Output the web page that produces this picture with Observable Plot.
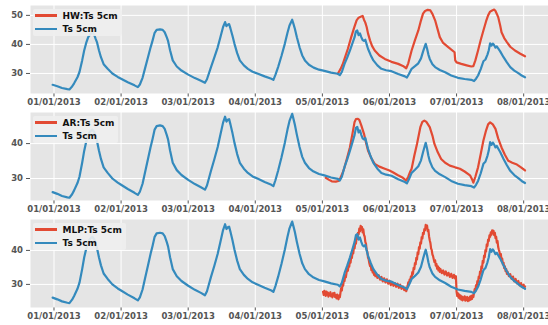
<!DOCTYPE html>
<html><head><meta charset="utf-8">
<script src="https://cdn.jsdelivr.net/npm/d3@7"></script>
<script src="https://cdn.jsdelivr.net/npm/@observablehq/plot@0.6"></script>
<style>
body{margin:0;background:#fff;font-family:"DejaVu Sans",sans-serif;}
#chart{position:relative;width:548px;height:325px;overflow:hidden;}
.panel{position:relative;}
.panel svg{display:block;}
.legend{position:absolute;left:33px;background:rgba(238,238,238,0.9);border-radius:2px;padding:0 4px 0 1.5px;}
.row{display:flex;align-items:center;height:13.4px;}
.sw{width:22px;height:2.5px;margin-right:6px;}
.lt{font:bold 9px "DejaVu Sans",sans-serif;color:#111;white-space:nowrap;}
</style></head>
<body><div id="chart"></div>
<script>
// ---- data (x = days since 01/01/2013, y = °C) ----
const seriesLabels = ["HW:Ts 5cm", "AR:Ts 5cm", "MLP:Ts 5cm"];
const baseLabel = "Ts 5cm";
const xTickDays = [0, 1, 2, 3, 4, 5, 6, 7];
const yTicksTop = [30, 40, 50];
const yTicksOther = [30, 40];
const yDomains = [[23.1, 53.4], [23.7, 48.9], [23.2, 49.1]];

const ts5cm = [[-0.02,26.1],[0.05,25.6],[0.12,25.0],[0.2,24.6],[0.23,24.5],[0.27,25.5],[0.3,26.6],[0.35,28.7],[0.38,30.5],[0.42,34.5],[0.45,37.9],[0.48,40.5],[0.51,42.5],[0.54,43.5],[0.57,44.0],[0.6,43.3],[0.62,42],[0.64,40.8],[0.67,38],[0.7,35.6],[0.74,33.2],[0.8,31.6],[0.87,30],[0.95,28.8],[1.0,28.2],[1.1,27],[1.2,25.9],[1.25,25.3],[1.28,26.2],[1.32,28.5],[1.36,32],[1.4,35.5],[1.44,39],[1.47,41.4],[1.5,44],[1.53,45],[1.58,45.2],[1.62,45],[1.65,44.2],[1.68,42.5],[1.7,41.2],[1.73,38],[1.77,34.5],[1.83,32.4],[1.9,31],[2.0,29.6],[2.1,28.4],[2.19,27.5],[2.25,26.8],[2.28,28],[2.34,32.2],[2.39,35.5],[2.44,39],[2.48,42.5],[2.52,46],[2.55,47.7],[2.57,46.3],[2.59,46.8],[2.61,47],[2.63,45.5],[2.66,43],[2.69,40.2],[2.73,37],[2.77,34.5],[2.83,32.8],[2.89,31.6],[2.96,30.6],[3.04,29.9],[3.14,29],[3.24,28.2],[3.27,27.8],[3.3,29.5],[3.34,32.2],[3.39,36],[3.44,40.2],[3.48,44],[3.51,46.5],[3.54,48],[3.55,48.5],[3.57,47],[3.59,45.4],[3.62,42.5],[3.66,39],[3.7,36.2],[3.74,34.5],[3.8,33],[3.87,32],[3.95,31.3],[4.03,30.9],[4.13,30.3],[4.23,29.9],[4.26,29.4],[4.29,30.5],[4.33,33.3],[4.37,35.5],[4.41,37.9],[4.45,40.5],[4.48,42.5],[4.5,44.5],[4.52,44.8],[4.54,43.2],[4.56,43.8],[4.58,42.5],[4.6,41.5],[4.62,41.2],[4.64,41.6],[4.66,40],[4.68,38.5],[4.72,36.3],[4.76,34.5],[4.82,32.8],[4.88,31.6],[4.95,31.1],[5.03,30.8],[5.13,29.8],[5.23,29.0],[5.26,28.6],[5.29,29.8],[5.33,31.6],[5.38,32.5],[5.43,33.5],[5.47,35.2],[5.5,37.5],[5.53,39.6],[5.54,40.2],[5.56,38.6],[5.58,36.5],[5.6,35],[5.64,33.2],[5.68,32.2],[5.75,31.2],[5.83,30.4],[5.92,29.3],[6.02,28.5],[6.12,28.1],[6.22,27.8],[6.26,27.4],[6.29,28.2],[6.32,29.3],[6.36,31.5],[6.4,34.2],[6.43,34.8],[6.46,36.5],[6.48,38],[6.5,40.4],[6.52,39.6],[6.54,40.3],[6.56,39.7],[6.58,38.9],[6.6,39.3],[6.62,38.6],[6.65,37.6],[6.7,35.6],[6.75,33.8],[6.8,32.2],[6.86,31],[6.92,30.1],[6.97,29.3],[7.02,28.7]];

const hwTs5cm = [[4.23,29.9],[4.27,31.5],[4.3,33],[4.33,35],[4.38,38.5],[4.43,42.5],[4.47,45.5],[4.51,48.3],[4.54,49.2],[4.57,49.5],[4.6,49.8],[4.62,48.5],[4.64,47.5],[4.66,46],[4.68,43.8],[4.71,41.4],[4.74,39.5],[4.78,37.9],[4.85,36.2],[4.93,35],[5.03,34],[5.13,33.3],[5.2,32.6],[5.25,31.8],[5.28,33.5],[5.33,37.9],[5.38,41.5],[5.43,44.8],[5.47,48.3],[5.5,50.6],[5.53,51.5],[5.57,51.9],[5.61,51.7],[5.64,50.5],[5.68,48.3],[5.72,45],[5.75,42.5],[5.8,40.5],[5.88,39],[5.97,37.3],[5.98,34.5],[6.0,33.8],[6.07,33.3],[6.15,32.8],[6.22,32.4],[6.25,32.5],[6.28,34.5],[6.32,37.9],[6.36,41.5],[6.4,44.8],[6.44,48],[6.47,50],[6.5,51.3],[6.53,51.7],[6.56,52],[6.58,51.5],[6.6,50.5],[6.62,49.4],[6.65,46.5],[6.67,44.2],[6.71,42.2],[6.75,40.8],[6.8,39.2],[6.87,37.9],[6.95,36.8],[7.02,35.9]];

const arTs5cm = [[4.05,30.2],[4.1,29.6],[4.14,29.2],[4.2,29.1],[4.24,29.3],[4.27,30.2],[4.3,31.5],[4.33,33.2],[4.37,36],[4.41,38.9],[4.45,43],[4.48,46.2],[4.5,47],[4.53,47.1],[4.55,46.8],[4.58,45.2],[4.62,42.8],[4.65,40.3],[4.68,38],[4.73,35.8],[4.78,34.2],[4.85,33.4],[4.93,32.8],[5.0,32.3],[5.05,31.8],[5.12,31],[5.2,30.2],[5.25,29.4],[5.28,30.5],[5.31,32],[5.33,32.8],[5.37,36.5],[5.41,39.9],[5.46,44.7],[5.49,46.2],[5.52,46.6],[5.55,46.2],[5.6,44.7],[5.64,42.3],[5.67,39.9],[5.72,37.5],[5.77,35.6],[5.83,34.5],[5.9,33.7],[5.98,33.2],[6.05,32.8],[6.12,32],[6.2,30.9],[6.23,29.8],[6.25,28.8],[6.28,30.5],[6.32,33.2],[6.36,37],[6.4,40.9],[6.44,43.8],[6.47,45.5],[6.5,46.1],[6.54,45.5],[6.58,44.2],[6.62,41.5],[6.67,38.9],[6.72,36.8],[6.77,35.1],[6.83,34.5],[6.9,34],[6.96,33.2],[7.02,32.3]];

const mlpTs5cm = [[4.01,27.8],[4.02,26.9],[4.03,28.1],[4.04,27.2],[4.05,26.6],[4.06,27.9],[4.07,27.0],[4.08,27.6],[4.09,26.4],[4.10,27.3],[4.11,26.8],[4.12,27.7],[4.13,26.5],[4.14,27.1],[4.15,26.2],[4.16,27.4],[4.17,26.7],[4.18,27.5],[4.19,26.3],[4.20,26.9],[4.21,25.9],[4.22,27.0],[4.23,26.1],[4.24,25.6],[4.25,26.8],[4.26,26.2],[4.27,27.6],
[4.28,28.9],[4.29,28.2],[4.30,30.1],[4.31,29.6],[4.32,31.4],[4.33,31.0],[4.34,32.6],[4.35,32.1],[4.36,33.5],[4.37,34.6],[4.38,34.0],[4.39,35.7],[4.40,35.2],[4.41,36.9],[4.42,36.4],[4.43,38.2],[4.44,37.8],[4.45,39.6],[4.46,39.1],[4.47,41.0],[4.48,40.6],[4.49,42.3],[4.50,42.0],[4.51,43.8],[4.52,43.4],[4.53,45.2],[4.54,44.7],[4.55,46.4],[4.56,45.6],[4.57,47.2],[4.58,46.1],[4.59,46.9],[4.60,45.3],[4.61,46.2],[4.62,44.6],[4.63,44.1],[4.64,42.5],[4.65,41.9],[4.66,40.2],[4.67,39.6],[4.68,37.9],[4.69,37.4],[4.70,36.2],[4.71,35.4],[4.72,35.9],[4.73,34.2],[4.74,34.8],[4.75,33.5],[4.76,34.1],[4.77,32.8],[4.78,33.6],[4.79,32.4],[4.80,33.2],[4.82,31.9],[4.84,32.7],[4.86,31.4],[4.88,32.2],[4.90,30.9],[4.92,31.8],[4.94,30.6],[4.96,31.5],[4.98,30.2],[5.00,31.1],[5.02,29.8],[5.04,30.7],[5.06,29.6],[5.08,30.4],[5.10,29.3],[5.12,30.2],[5.14,29.0],[5.16,29.9],[5.18,28.7],[5.20,29.4],[5.22,28.3],[5.24,29.0],[5.25,28.0],[5.26,28.8],
[5.27,29.5],[5.28,30.6],[5.29,30.1],[5.30,31.4],[5.31,31.0],[5.32,32.4],[5.33,32.0],[5.34,33.6],[5.35,33.1],[5.36,34.9],[5.37,34.5],[5.38,36.3],[5.39,35.9],[5.40,37.8],[5.41,37.3],[5.42,39.4],[5.43,38.9],[5.44,41.0],[5.45,40.5],[5.46,42.4],[5.47,42.0],[5.48,43.9],[5.49,43.5],[5.50,45.2],[5.51,44.8],[5.52,46.3],[5.53,45.9],[5.54,47.5],[5.55,46.8],[5.56,47.3],[5.57,45.7],[5.58,46.0],[5.59,44.1],[5.60,43.0],[5.61,42.2],[5.62,40.6],[5.63,40.1],[5.64,38.8],[5.65,38.3],[5.66,37.4],[5.67,36.6],[5.68,37.1],[5.69,35.5],[5.70,36.0],[5.71,34.6],[5.72,35.3],[5.73,34.1],[5.74,34.9],[5.75,33.7],[5.76,34.5],[5.78,33.3],[5.80,34.1],[5.82,32.9],[5.84,33.8],[5.86,32.6],[5.88,33.4],[5.90,32.2],[5.92,33.1],[5.94,31.9],[5.96,32.8],[5.98,31.7],[5.99,32.4],
[6.00,27.8],[6.01,26.6],[6.02,27.4],[6.03,26.1],[6.04,27.0],[6.05,25.8],[6.06,26.7],[6.07,25.5],[6.08,26.4],[6.09,25.3],[6.10,26.2],[6.11,25.6],[6.12,26.5],[6.13,25.2],[6.14,26.1],[6.15,25.4],[6.16,26.3],[6.17,25.1],[6.18,25.9],[6.19,25.3],[6.20,26.4],[6.21,25.5],[6.22,26.6],[6.23,25.7],[6.24,26.8],[6.25,26.3],[6.26,27.5],
[6.27,28.6],[6.28,28.1],[6.29,29.8],[6.30,29.3],[6.31,31.0],[6.32,30.6],[6.33,32.3],[6.34,31.9],[6.35,33.8],[6.36,33.3],[6.37,35.3],[6.38,34.8],[6.39,36.9],[6.40,36.4],[6.41,38.5],[6.42,38.0],[6.43,40.1],[6.44,39.7],[6.45,41.8],[6.46,41.3],[6.47,43.2],[6.48,42.8],[6.49,44.4],[6.50,44.0],[6.51,45.3],[6.52,44.6],[6.53,45.9],[6.54,45.1],[6.55,45.8],[6.56,44.5],[6.57,45.2],[6.58,43.6],[6.59,44.0],[6.60,42.3],[6.61,42.8],[6.62,41.0],[6.63,40.2],[6.64,39.5],[6.65,38.3],[6.66,38.9],[6.67,37.0],[6.68,37.6],[6.69,35.9],[6.70,36.4],[6.71,34.8],[6.72,35.3],[6.73,33.9],[6.74,34.5],[6.75,33.1],[6.76,33.7],[6.78,32.4],[6.80,33.0],[6.82,31.6],[6.84,32.3],[6.86,30.9],[6.88,31.6],[6.90,30.3],[6.92,31.0],[6.94,29.7],[6.96,30.4],[6.98,29.2],[7.00,29.9],[7.01,28.9],[7.02,29.4]];

const modelSeries = [hwTs5cm, arTs5cm, mlpTs5cm];
const RED = "#E24A33", BLUE = "#348ABD";

// ---- drawing ----
const t0 = Date.UTC(2013, 0, 1);
const toDate = d => new Date(t0 + d * 86400000);
const fmt = d3.utcFormat("%d/%m/%Y");
const xTicks = xTickDays.map(toDate);
const layout = [
  {height: 108, marginTop: 5, marginBottom: 15},
  {height: 108, marginTop: 4, marginBottom: 16},
  {height: 109, marginTop: 3, marginBottom: 18}
];
const chart = document.getElementById("chart");

modelSeries.forEach((model, i) => {
  const L = layout[i];
  const yTicks = i === 0 ? yTicksTop : yTicksOther;
  const base = ts5cm.map(([d, v]) => ({date: toDate(d), value: v}));
  const pred = model.map(([d, v]) => ({date: toDate(d), value: v}));
  const svg = Plot.plot({
    width: 548, height: L.height,
    marginTop: L.marginTop, marginBottom: L.marginBottom, marginLeft: 30, marginRight: 0,
    style: {background: "transparent", fontFamily: "'DejaVu Sans', sans-serif", fontSize: "8.5px", fontWeight: "bold", color: "#555", overflow: "visible"},
    x: {type: "utc", domain: [toDate(-0.35), toDate(7.37)], ticks: xTicks, tickFormat: fmt, label: null, tickSize: 3.5, tickPadding: 1.5},
    y: {domain: yDomains[i], ticks: yTicks, label: null, tickSize: 4, tickPadding: 3.5},
    marks: [
      Plot.frame({fill: "#E5E5E5", stroke: null}),
      Plot.gridX(xTicks, {stroke: "#fff", strokeOpacity: 1, strokeWidth: 1}),
      Plot.gridY(yTicks, {stroke: "#fff", strokeOpacity: 1, strokeWidth: 1}),
      Plot.line(pred, {x: "date", y: "value", stroke: RED, strokeWidth: 2.2}),
      Plot.line(base, {x: "date", y: "value", stroke: BLUE, strokeWidth: 2.2})
    ]
  });
  const panel = document.createElement("div");
  panel.className = "panel";
  panel.appendChild(svg);
  const leg = document.createElement("div");
  leg.className = "legend";
  leg.style.top = (L.marginTop + 4) + "px";
  [[RED, seriesLabels[i]], [BLUE, baseLabel]].forEach(([c, t]) => {
    const row = document.createElement("div");
    row.className = "row";
    const sw = document.createElement("span"); sw.className = "sw"; sw.style.background = c;
    const tx = document.createElement("span"); tx.className = "lt"; tx.textContent = t;
    row.appendChild(sw); row.appendChild(tx); leg.appendChild(row);
  });
  panel.appendChild(leg);
  chart.appendChild(panel);
});
</script></body></html>
